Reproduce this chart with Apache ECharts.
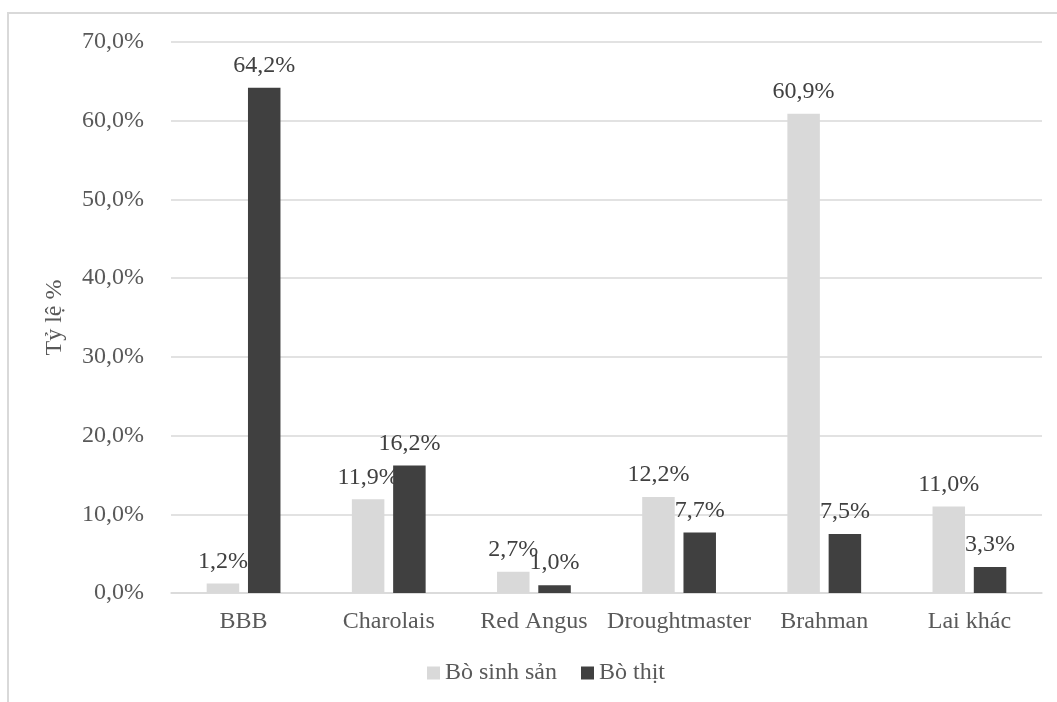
<!DOCTYPE html>
<html>
<head>
<meta charset="utf-8">
<script src="https://cdn.jsdelivr.net/npm/echarts@6/dist/echarts.min.js"></script>
<style>
html,body{margin:0;padding:0;background:#fff;}
#chart{width:1057px;height:702px;}
</style>
</head>
<body>
<div id="chart"></div>
<script>
const categories = ['BBB', 'Charolais', 'Red Angus', 'Droughtmaster', 'Brahman', 'Lai khác'];
const boSinhSan = [1.2, 11.9, 2.7, 12.2, 60.9, 11.0];
const boThit = [64.2, 16.2, 1.0, 7.7, 7.5, 3.3];
const seriesNames = ['Bò sinh sản', 'Bò thịt'];
const yTicks = { min: 0, max: 70, interval: 10 };

const FONT = '"Liberation Serif", "Times New Roman", serif';
const TXT = '#595959';
const fmt = v => Number(v).toFixed(1).replace('.', ',') + '%';

const chart = echarts.init(document.getElementById('chart'), null, { renderer: 'canvas' });
const labelCfg = {
  show: true, position: 'top', distance: 10,
  color: '#404040', fontFamily: FONT, fontSize: 24,
  formatter: p => fmt(p.value)
};
chart.setOption({
  animation: false,
  backgroundColor: '#fff',
  textStyle: { fontFamily: FONT },
  graphic: [{
    type: 'rect', silent: true, z: -1,
    shape: { x: 8, y: 13, width: 1200, height: 1000 },
    style: { fill: null, stroke: '#d9d9d9', lineWidth: 2 }
  }],
  grid: { left: 171, right: 15, top: 42, bottom: 109, containLabel: false },
  legend: {
    left: 427, top: 661, padding: 0,
    itemWidth: 13, itemHeight: 13, itemGap: 24,
    icon: 'rect',
    textStyle: { color: TXT, fontFamily: FONT, fontSize: 24 },
    data: seriesNames
  },
  xAxis: {
    type: 'category', data: categories,
    axisTick: { show: false },
    axisLine: { lineStyle: { color: '#d9d9d9', width: 1.5 } },
    axisLabel: { color: TXT, fontFamily: FONT, fontSize: 24, margin: 17, interval: 0 }
  },
  yAxis: {
    type: 'value', min: yTicks.min, max: yTicks.max, interval: yTicks.interval,
    name: 'Tỷ lệ %', nameLocation: 'middle', nameGap: 104, nameRotate: 90,
    nameTextStyle: { color: TXT, fontFamily: FONT, fontSize: 24 },
    axisLine: { show: false }, axisTick: { show: false },
    splitLine: { lineStyle: { color: '#d9d9d9', width: 1.5 } },
    axisLabel: { color: TXT, fontFamily: FONT, fontSize: 24, margin: 27, formatter: v => fmt(v) }
  },
  series: [
    { name: seriesNames[0], type: 'bar', data: boSinhSan, barWidth: 32.5, barGap: '27%',
      itemStyle: { color: '#d9d9d9' }, label: labelCfg },
    { name: seriesNames[1], type: 'bar', data: boThit, barWidth: 32.5, barGap: '27%',
      itemStyle: { color: '#404040' }, label: labelCfg }
  ]
});
</script>
</body>
</html>
